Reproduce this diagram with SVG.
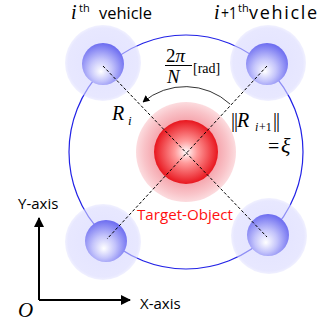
<svg xmlns="http://www.w3.org/2000/svg" width="328" height="329" viewBox="0 0 328 329">
<defs>
<radialGradient id="vIn" cx="0.45" cy="0.6" r="0.6" fx="0.45" fy="0.68">
<stop offset="0" stop-color="#ffffff"/>
<stop offset="0.45" stop-color="#c4c4fb"/>
<stop offset="1" stop-color="#6c6cf0"/>
</radialGradient>
<radialGradient id="vOut" cx="0.5" cy="0.5" r="0.5">
<stop offset="0.5" stop-color="#d4d4ff" stop-opacity="0.6"/>
<stop offset="0.92" stop-color="#d8d8ff" stop-opacity="0.6"/>
<stop offset="1" stop-color="#e2e2ff" stop-opacity="0.5"/>
</radialGradient>
<radialGradient id="tIn" cx="0.5" cy="0.5" r="0.5">
<stop offset="0" stop-color="#ffffff"/>
<stop offset="0.35" stop-color="#ff9a9a"/>
<stop offset="1" stop-color="#e8161e"/>
</radialGradient>
<radialGradient id="tOut" cx="0.5" cy="0.5" r="0.5">
<stop offset="0.6" stop-color="#f5a2aa"/>
<stop offset="0.85" stop-color="#f9c4c9"/>
<stop offset="1" stop-color="#fcdcdf"/>
</radialGradient>
<marker id="arr" viewBox="0 0 10 10" refX="9" refY="5" markerWidth="7" markerHeight="7" markerUnits="userSpaceOnUse" orient="auto">
<path d="M0,0 L10,5 L0,10 z" fill="#000"/>
</marker>
<marker id="ax" viewBox="0 0 10 10" refX="9" refY="5" markerWidth="12" markerHeight="10" markerUnits="userSpaceOnUse" orient="auto">
<path d="M0,0 L10,5 L0,10 z" fill="#000"/>
</marker>
<style>
.halo{fill:url(#vOut)}
.core{fill:url(#vIn)}
.dash{stroke:#000;stroke-width:1;stroke-dasharray:3 2;fill:none}
.sans{font-family:"Open Sans","Noto Sans","DejaVu Sans",sans-serif}
.math{font-family:"Liberation Serif","DejaVu Serif",serif;font-style:italic}
.rm{font-family:"Liberation Serif","DejaVu Serif",serif}
</style>
</defs>
<rect width="328" height="329" fill="#fff"/>

<circle cx="186" cy="152" r="117" fill="none" stroke="#2222e6" stroke-width="1.2"/>

<g id="target">
<circle cx="186" cy="152" r="50" fill="url(#tOut)"/>
<circle cx="186" cy="152" r="32" fill="url(#tIn)"/>
<text class="sans" x="185" y="220" font-size="15" fill="#ff1010" text-anchor="middle" textLength="96" lengthAdjust="spacingAndGlyphs">Target-Object</text>
</g>

<g id="vehicle-tl">
<circle class="halo" cx="103" cy="63" r="38"/>
<circle class="core" cx="103" cy="64" r="21"/>
</g>
<g id="vehicle-tr">
<circle class="halo" cx="268" cy="63" r="38"/>
<circle class="core" cx="267" cy="64" r="21"/>
</g>
<g id="vehicle-bl">
<circle class="halo" cx="103" cy="242" r="38"/>
<circle class="core" cx="106" cy="241" r="21"/>
</g>
<g id="vehicle-br">
<circle class="halo" cx="269" cy="236" r="38"/>
<circle class="core" cx="268" cy="235" r="21"/>
</g>

<g id="connectors">
<line class="dash" x1="103" y1="66" x2="267" y2="237"/>
<line class="dash" x1="267" y1="66" x2="107" y2="239"/>
<path d="M230,104 A66,66 0 0 0 143,102" fill="none" stroke="#000" stroke-width="0.8" marker-end="url(#arr)"/>
<line x1="39" y1="300" x2="39" y2="218" stroke="#000" stroke-width="2" marker-end="url(#ax)"/>
<line x1="39" y1="300" x2="130" y2="300" stroke="#000" stroke-width="2" marker-end="url(#ax)"/>
</g>

<g id="labels">
<text class="math" x="71" y="19" font-size="20">i</text>
<text class="sans" x="79" y="12" font-size="11">th</text>
<text class="sans" x="99" y="19" font-size="17" textLength="53" lengthAdjust="spacingAndGlyphs">vehicle</text>

<text class="math" x="214" y="19" font-size="20">i</text>
<text class="sans" x="221" y="19" font-size="16" textLength="16" lengthAdjust="spacingAndGlyphs">+1</text>
<text class="sans" x="238" y="12" font-size="11">th</text>
<text class="sans" x="249" y="19" font-size="18" textLength="68" lengthAdjust="spacing">vehicle</text>

<text class="rm" x="166" y="62" font-size="19">2<tspan class="math">π</tspan></text>
<line x1="165" y1="65.5" x2="192" y2="65.5" stroke="#000" stroke-width="1"/>
<text class="math" x="167" y="83" font-size="19">N</text>
<text class="rm" x="193" y="73" font-size="14">[rad]</text>

<text class="math" x="112" y="120" font-size="20">R</text>
<text class="math" x="128" y="125" font-size="13">i</text>

<text class="rm" x="231" y="127" font-size="20" letter-spacing="-1">||</text>
<text class="math" x="237" y="127" font-size="20">R</text>
<text class="math" x="255" y="131" font-size="12">i</text>
<text class="rm" x="259" y="131" font-size="12">+1</text>
<text class="rm" x="273" y="127" font-size="20" letter-spacing="-1">||</text>
<text class="rm" x="268" y="153" font-size="20">=</text>
<text class="math" x="281" y="153" font-size="22">ξ</text>

<text class="sans" x="18" y="209" font-size="15">Y-axis</text>
<text class="sans" x="140" y="309" font-size="15">X-axis</text>
<text class="math" x="18" y="317" font-size="21">O</text>
</g>
</svg>
